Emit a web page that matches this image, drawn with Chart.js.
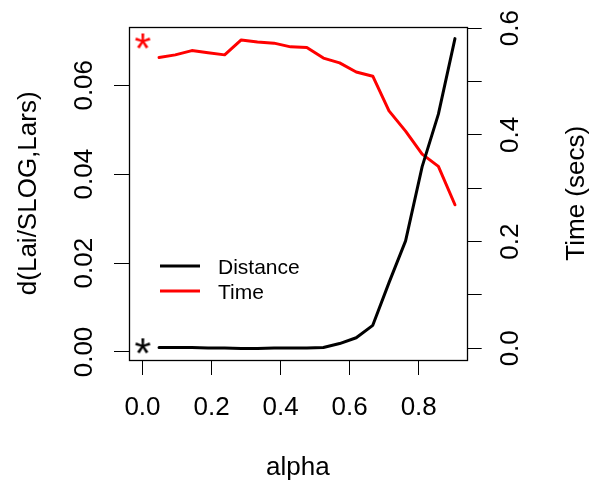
<!DOCTYPE html>
<html>
<head>
<meta charset="utf-8">
<script src="https://cdn.jsdelivr.net/npm/chart.js@4.4.1/dist/chart.umd.min.js"></script>
<style>
html, body { margin: 0; padding: 0; background: #fff; }
</style>
</head>
<body>
<canvas id="myChart" width="594" height="485"></canvas>
<script>
// values
var alpha = [0.048, 0.095, 0.143, 0.190, 0.238, 0.286, 0.333, 0.381, 0.429, 0.476,
             0.524, 0.571, 0.619, 0.667, 0.714, 0.762, 0.810, 0.857, 0.905]
var distance = [0.0010, 0.0010, 0.0010, 0.0009, 0.0009, 0.0008, 0.0008, 0.0009, 0.0009, 0.0009,
                0.0010, 0.0019, 0.0032, 0.0060, 0.0156, 0.0250, 0.0417, 0.0535, 0.0705]
var time = [0.545, 0.550, 0.558, 0.554, 0.550, 0.578, 0.574, 0.572, 0.565, 0.564,
            0.544, 0.535, 0.518, 0.510, 0.445, 0.407, 0.364, 0.341, 0.269]

// the two star marks at alpha = 0
var starAlpha = [0]
var starDistance = [0.0015]
var starTime = [0.577]

var xTicks = [0, 0.2, 0.4, 0.6, 0.8]
var xTickLabels = ['0.0', '0.2', '0.4', '0.6', '0.8']
var leftTicks = [0, 0.01, 0.02, 0.03, 0.04, 0.05, 0.06, 0.07]
var leftTickLabels = ['0.00', '', '0.02', '', '0.04', '', '0.06', '']
var rightTicks = [0, 0.1, 0.2, 0.3, 0.4, 0.5, 0.6]
var rightTickLabels = ['0.0', '', '0.2', '', '0.4', '', '0.6']

var FONT = '"Liberation Sans", Arial, Helvetica, sans-serif'
Chart.defaults.font.family = FONT
Chart.defaults.font.size = 26
Chart.defaults.color = '#000'

function pts(xs, ys) {
  return xs.map(function(x, i) { return {x: x, y: ys[i]} })
}

function makeStar(color) {
  var c = document.createElement('canvas')
  c.width = 24
  c.height = 24
  var ctx = c.getContext('2d')
  ctx.font = '40px ' + FONT
  var m = ctx.measureText('*')
  var w = m.actualBoundingBoxLeft + m.actualBoundingBoxRight
  var size = 40 * 16 / w
  ctx.font = size + 'px ' + FONT
  m = ctx.measureText('*')
  var cx = (m.actualBoundingBoxRight - m.actualBoundingBoxLeft) / 2
  var cy = (m.actualBoundingBoxAscent - m.actualBoundingBoxDescent) / 2
  ctx.fillStyle = color
  ctx.fillText('*', 12 - cx, 12 + cy)
  return c
}

function setTicks(list) {
  return function(scale) {
    scale.ticks = list.map(function(v) { return {value: v} })
  }
}

function tickGrid() {
  return {drawOnChartArea: false, drawTicks: true, tickLength: 15, color: '#000', lineWidth: 1}
}

var boxAndLegend = {
  id: 'boxAndLegend',
  afterDatasetsDraw: function(chart) {
    var ctx = chart.ctx
    var a = chart.chartArea
    ctx.save()
    ctx.strokeStyle = '#000'
    ctx.lineWidth = 1.3
    var l = Math.round(a.left) + 0.5, t = Math.round(a.top) + 0.5
    var r = Math.round(a.right) + 0.5, b = Math.round(a.bottom) + 0.5
    ctx.strokeRect(l, t, r - l, b - t)

    // legend inside the plot
    ctx.font = '21px ' + FONT
    ctx.textBaseline = 'alphabetic'
    ctx.textAlign = 'left'
    ctx.lineWidth = 3
    for (var i = 0; i < 2; i++) {
      var ds = chart.data.datasets[i]
      var y = 266 + i * 25
      ctx.strokeStyle = ds.borderColor
      ctx.beginPath()
      ctx.moveTo(160, y)
      ctx.lineTo(200, y)
      ctx.stroke()
      ctx.fillStyle = '#000'
      ctx.fillText(ds.label, 218, y + 7.5)
    }

    // right axis title, reading bottom to top
    ctx.font = '26px ' + FONT
    ctx.translate(577, (a.top + a.bottom) / 2)
    ctx.rotate(-Math.PI / 2)
    ctx.textAlign = 'center'
    ctx.textBaseline = 'middle'
    ctx.fillText('Time (secs)', 0, 0)
    ctx.restore()
  }
}

var ctx = document.getElementById('myChart').getContext('2d')
var chart = new Chart(ctx, {
  type: 'line',
  data: {
    datasets: [{
      label: 'Distance',
      data: pts(alpha, distance),
      yAxisID: 'y',
      borderColor: '#000',
      borderWidth: 3,
      pointRadius: 0,
      borderCapStyle: 'round',
      borderJoinStyle: 'round'
    }, {
      label: 'Time',
      data: pts(alpha, time),
      yAxisID: 'y1',
      borderColor: '#ff0000',
      borderWidth: 3,
      pointRadius: 0,
      borderCapStyle: 'round',
      borderJoinStyle: 'round'
    }, {
      label: 'star distance',
      data: pts(starAlpha, starDistance),
      yAxisID: 'y',
      showLine: false,
      pointStyle: makeStar('#000'),
      pointRadius: 8
    }, {
      label: 'star time',
      data: pts(starAlpha, starTime),
      yAxisID: 'y1',
      showLine: false,
      pointStyle: makeStar('#ff0000'),
      pointRadius: 8
    }]
  },
  options: {
    responsive: false,
    animation: false,
    layout: {padding: {top: 25, left: 0, right: 0, bottom: 0}, autoPadding: false},
    plugins: {legend: {display: false}, tooltip: {enabled: false}},
    scales: {
      x: {
        type: 'linear',
        min: -0.039,
        max: 0.939,
        afterBuildTicks: setTicks(xTicks),
        afterFit: function(s) { s.height = 125 },
        grid: tickGrid(),
        border: {display: false},
        ticks: {padding: 17.4, maxRotation: 0, callback: function(v, i) { return xTickLabels[i] }},
        title: {display: true, text: 'alpha', padding: {top: 0, bottom: 1.4}}
      },
      y: {
        type: 'linear',
        position: 'left',
        min: -0.0018,
        max: 0.0732,
        afterBuildTicks: setTicks(leftTicks),
        afterFit: function(s) { s.width = 129 },
        grid: tickGrid(),
        border: {display: false},
        ticks: {minRotation: 90, maxRotation: 90, crossAlign: 'center', padding: 3.7,
                callback: function(v, i) { return leftTickLabels[i] }},
        title: {display: true, text: 'd(Lai/SLOG,Lars)', padding: {top: 13.4, bottom: 0}}
      },
      y1: {
        type: 'linear',
        position: 'right',
        min: -0.022,
        max: 0.603,
        afterBuildTicks: setTicks(rightTicks),
        afterFit: function(s) { s.width = 127.3 },
        grid: tickGrid(),
        border: {display: false},
        ticks: {minRotation: 90, maxRotation: 90, crossAlign: 'center', padding: 11,
                callback: function(v, i) { return rightTickLabels[i] }}
      }
    }
  },
  plugins: [boxAndLegend]
})
</script>
</body>
</html>
